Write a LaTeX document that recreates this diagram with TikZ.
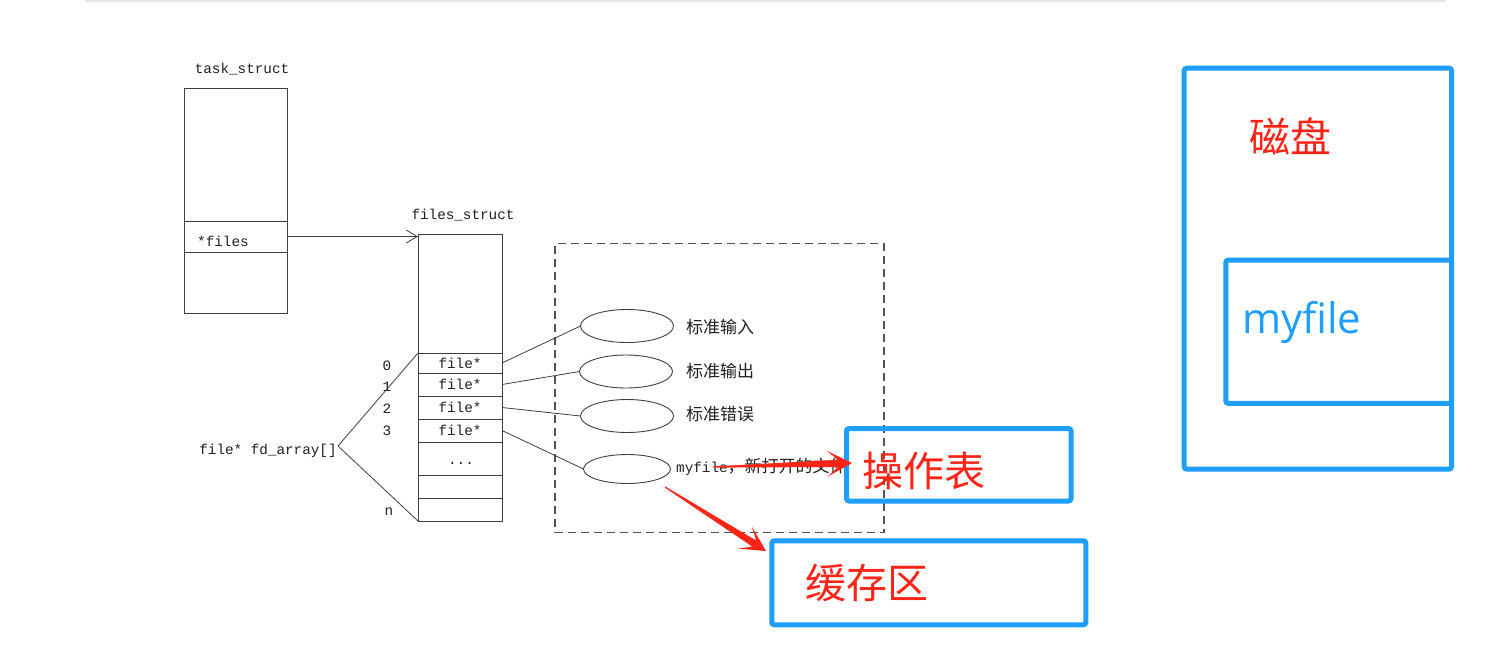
\documentclass[tikz,border=0pt]{standalone}
\usepackage{fontspec}
\setmonofont{Liberation Mono}
\newfontfamily\cjk{Noto Sans CJK SC}
\newfontfamily\osans{Open Sans}
\usetikzlibrary{shapes.geometric,arrows.meta,calc}
\definecolor{lin}{HTML}{404040}
\definecolor{txt}{HTML}{202020}
\definecolor{bluec}{HTML}{1E9FFF}
\definecolor{redc}{HTML}{FF2418}
\newcommand\fatarrow[2]{%
  \coordinate (fa-n) at ($(#2)!14pt!(#1)$);
  \coordinate (fa-h) at ($(#2)!25pt!(#1)$);
  \fill[redc] ($(#1)!0.6pt!90:(#2)$) -- ($(fa-n)!3.6pt!90:(#2)$) -- ($(fa-h)!13pt!90:(#2)$) -- (#2)
     -- ($(fa-h)!13pt!-90:(#2)$) -- ($(fa-n)!3.6pt!-90:(#2)$) -- ($(#1)!0.6pt!-90:(#2)$) -- cycle;}
\tikzset{
  mono/.style={font=\ttfamily\fontsize{14.3}{16}\selectfont, text=txt, inner sep=0pt},
  cjklab/.style={font=\cjk\fontsize{17}{19}\selectfont, text=txt, inner sep=0pt},
  cell/.style={draw=lin, line width=0.9pt, rectangle, inner sep=0pt, outer sep=0pt,
    minimum width=#1, font=\ttfamily\fontsize{14.3}{16}\selectfont, text=txt},
  conn/.style={draw=lin, line width=0.8pt},
  oval/.style={draw=lin, line width=0.9pt, ellipse, inner sep=0pt, outer sep=0pt},
  dashbox/.style={draw=lin!90, line width=1.1pt, dash pattern=on 8pt off 5pt,
    rectangle, inner sep=0pt, outer sep=0pt},
  bluebox/.style={draw=bluec, line width=5pt, rounded corners=2.5pt, rectangle,
    inner sep=0pt, outer sep=0pt},
  redtext/.style={font=\cjk\fontsize{41}{44}\selectfont, text=redc, inner sep=0pt},
}
\begin{document}
\begin{tikzpicture}[x=1pt,y=-1pt]
\useasboundingbox (0,0) rectangle (1507,659);
\fill[white] (0,0) rectangle (1507,659);
\draw[black!10, line width=1.5pt] (85,1) -- (1445,1);

% task_struct
\node[mono] (tlab) at (242,69) {task\_struct};
\node[cell=103pt, minimum height=133pt] (ttop) at (235.5,154.5) {};
\node[cell=103pt, minimum height=31pt] (tfiles) at (235.5,236.5) {};
\node[mono, anchor=west] (tfilestxt) at (197,241) {*files};
\node[cell=103pt, minimum height=61pt] (tbot) at (235.5,282.5) {};

% files_struct
\node[mono] (flab) at (463,215) {files\_struct};
\node[cell=84pt, minimum height=119pt] (fstop) at (460,293.5) {};
\node[cell=84pt, minimum height=20pt] (r0) at (460,363) {file*};
\node[cell=84pt, minimum height=23pt] (r1) at (460,384.5) {file*};
\node[cell=84pt, minimum height=23pt] (r2) at (460,407.5) {file*};
\node[cell=84pt, minimum height=23pt] (r3) at (460,430.5) {file*};
\node[cell=84pt, minimum height=33pt] (rd) at (460,458.5) {};
\node[mono] (rdots) at (461,463) {...};
\node[cell=84pt, minimum height=23pt] (r5) at (460,486.5) {};
\node[cell=84pt, minimum height=23pt] (rn) at (460,509.5) {};

\draw[conn, -{Straight Barb[length=11pt,width=13pt]}] (tfiles.east) -- (fstop.west |- tfiles.east);

% indices
\node[mono] (i0) at (387,366) {0};
\node[mono] (i1) at (387,387) {1};
\node[mono] (i2) at (387,409) {2};
\node[mono] (i3) at (387,431) {3};
\node[mono] (in) at (389,512) {n};

\node[mono] (fdarr) at (268,451) {file* fd\_array[]};
\coordinate (fd) at (338,446);
\draw[conn] (fd) -- (r0.north west);
\draw[conn] (fd) -- (rn.south west);

% dashed region
\node[dashbox, minimum width=329pt, minimum height=289pt] (region) at (719.5,388) {};

\node[oval, minimum width=93pt, minimum height=33pt] (e1) at (627,326) {};
\node[oval, minimum width=93pt, minimum height=33pt] (e2) at (626,371.5) {};
\node[oval, minimum width=93pt, minimum height=33pt] (e3) at (627,416) {};
\node[oval, minimum width=87pt, minimum height=29pt] (e4) at (627,469) {};

\draw[conn] (r0.east) -- (e1.west);
\draw[conn] (r1.east) -- (e2.west);
\draw[conn] (r2.east) -- (e3.west);
\draw[conn] (r3.east) -- (e4.west);

\node[cjklab, anchor=west] (l1) at (686,327) {标准输入};
\node[cjklab, anchor=west] (l2) at (686,371) {标准输出};
\node[cjklab, anchor=west] (l3) at (686,414) {标准错误};
\node[anchor=west, inner sep=0pt, text=txt] (l4) at (676,467)
  {\ttfamily\fontsize{14.3}{16}\selectfont myfile\cjk\fontsize{17}{19}\selectfont ，新打开的文件};

% blue boxes
\node[bluebox, minimum width=224.5pt, minimum height=72.5pt] (optab) at (958.75,464.75) {};
\node[redtext] (optabt) at (924,471) {操作表};
\node[bluebox, minimum width=314pt, minimum height=84pt] (cache) at (928.8,582.8) {};
\node[redtext] (cachet) at (866.5,583) {缓存区};

\node[bluebox, minimum width=267.3pt, minimum height=401pt] (disk) at (1317.85,268.7) {};
\node[redtext] (diskt) at (1290,136) {磁盘};
\node[bluebox, minimum width=225.7pt, minimum height=143.3pt] (mf) at (1338.65,331.7) {};
\node[font=\osans\fontsize{42}{46}\selectfont, text=bluec, inner sep=0pt, anchor=base west] (mft) at (1242,333) {myfile};

% red arrows
\coordinate (a1s) at (713,467);
\coordinate (a1e) at (852,463);
\fatarrow{a1s}{a1e}
\coordinate (a2s) at (665,487);
\coordinate (a2e) at (766,551);
\fatarrow{a2s}{a2e}
\end{tikzpicture}
\end{document}
